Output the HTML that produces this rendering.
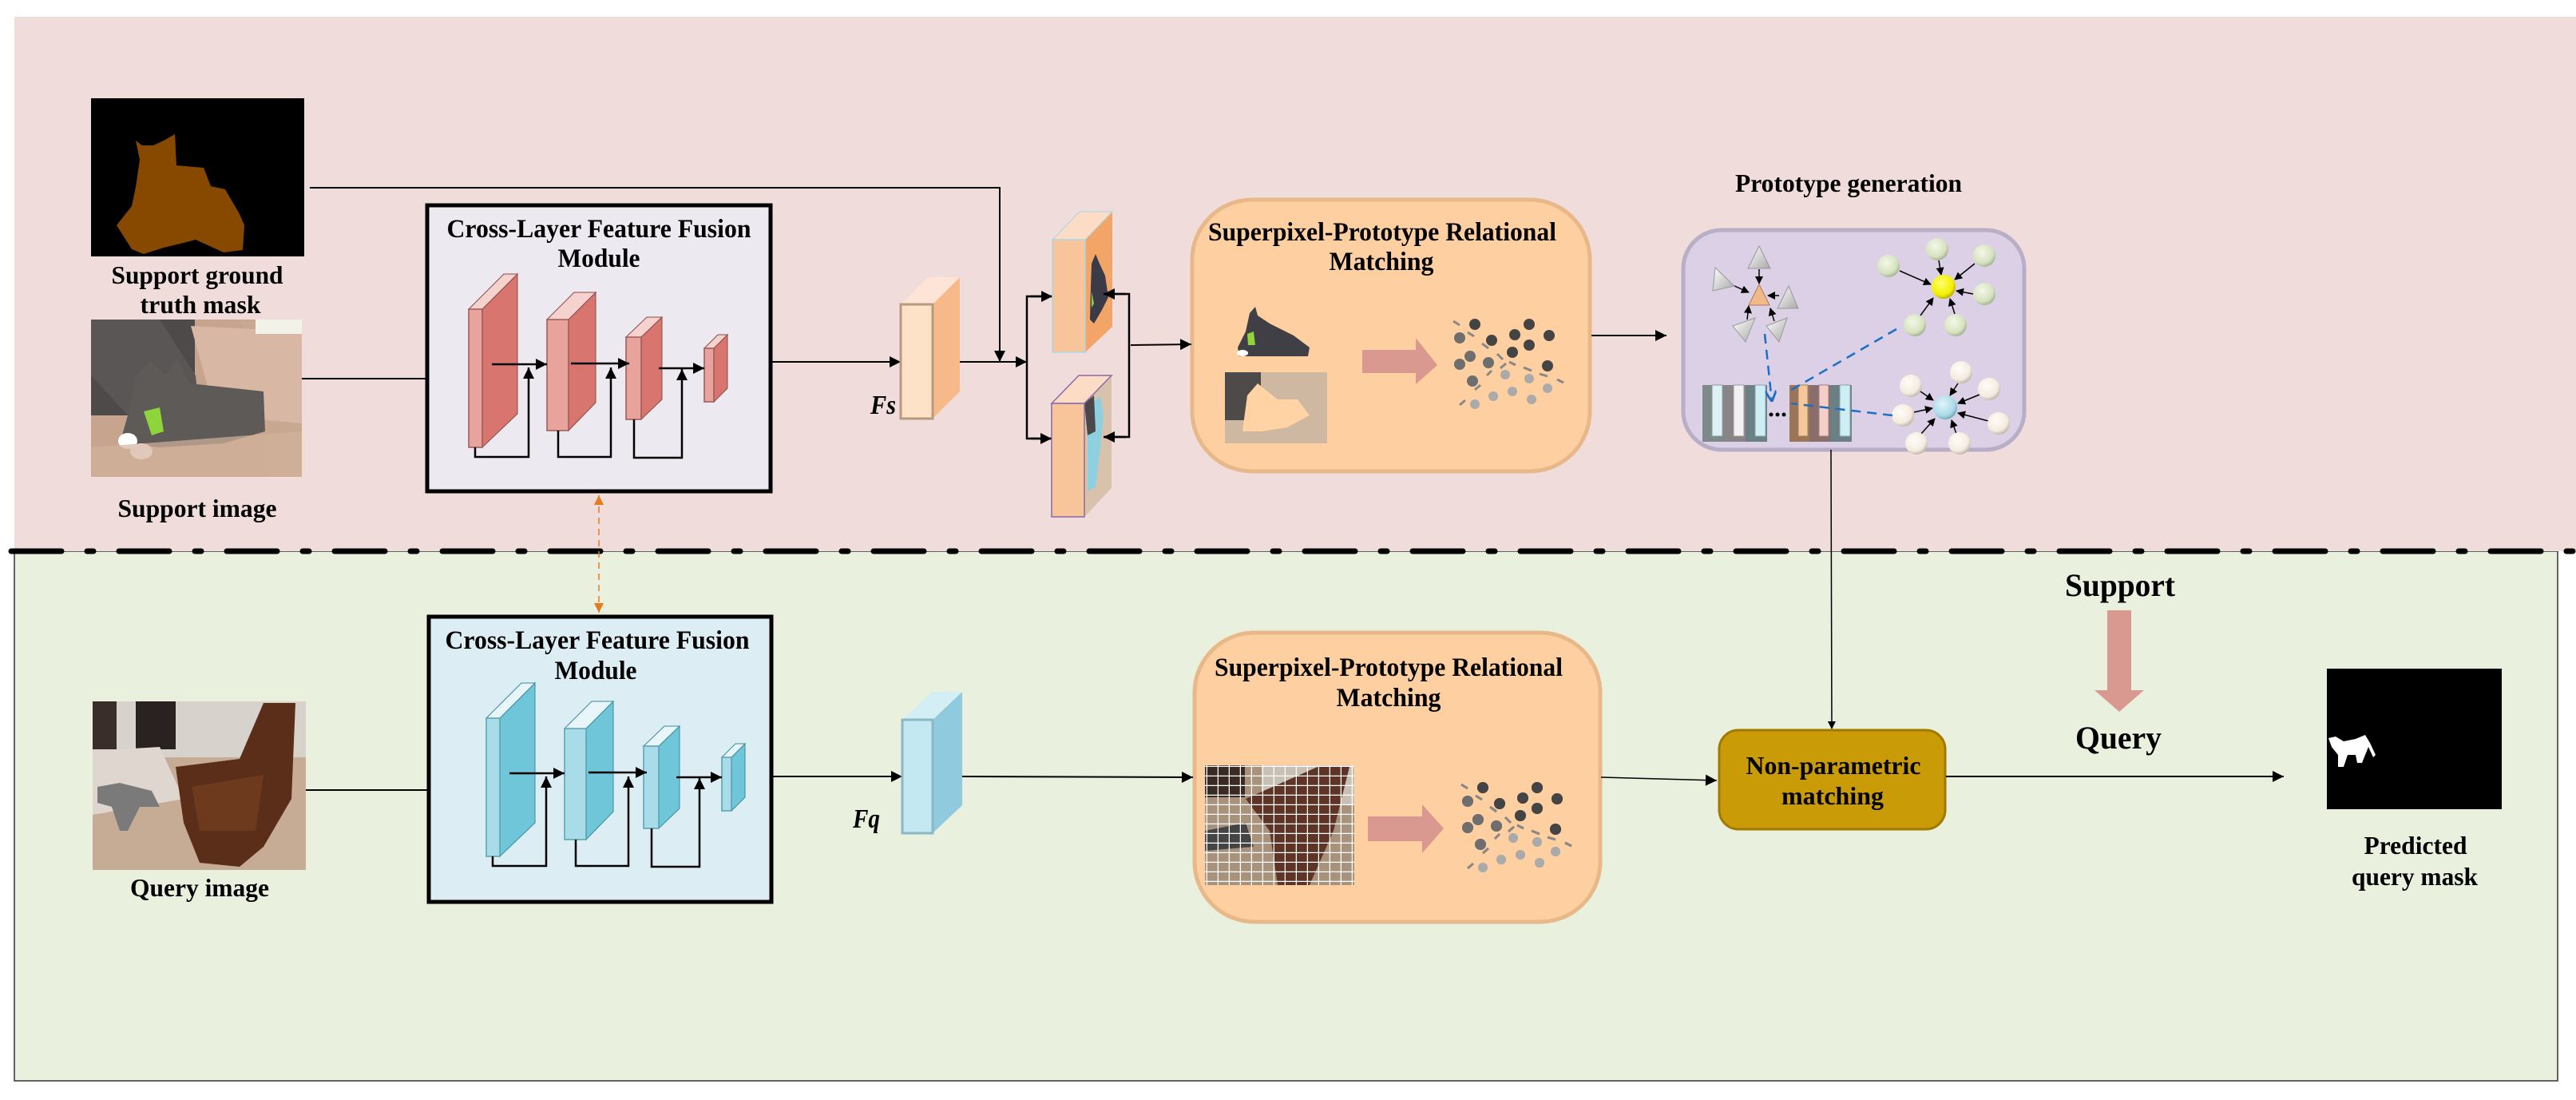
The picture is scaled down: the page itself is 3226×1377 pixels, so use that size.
<!DOCTYPE html>
<html><head><meta charset="utf-8"><style>
html,body{margin:0;padding:0;background:#fff}
svg{display:block}
text{font-family:"Liberation Serif",serif;font-weight:bold;fill:#000}
</style></head><body>
<svg width="3226" height="1377" viewBox="0 0 3226 1377" xmlns="http://www.w3.org/2000/svg">
<defs>
<marker id="ar" markerWidth="10" markerHeight="10" refX="9" refY="5" orient="auto" markerUnits="userSpaceOnUse"><path d="M0,0 L10,5 L0,10 Z" fill="#000"/></marker>
<marker id="arb" viewBox="0 0 10 10" markerWidth="18" markerHeight="14" refX="10" refY="5" orient="auto" markerUnits="userSpaceOnUse"><path d="M0,0 L10,5 L0,10 Z" fill="#000"/></marker>
<marker id="aro" viewBox="0 0 10 10" markerWidth="12" markerHeight="12" refX="10" refY="5" orient="auto-start-reverse" markerUnits="userSpaceOnUse"><path d="M0,0 L10,5 L0,10 Z" fill="#e87a1e"/></marker>
<marker id="arblue" viewBox="0 0 10 10" markerWidth="14" markerHeight="14" refX="10" refY="5" orient="auto" markerUnits="userSpaceOnUse"><path d="M0,0 L10,5 L0,10" fill="none" stroke="#1a6fc4" stroke-width="2"/></marker>
<pattern id="grid" width="14" height="12" patternUnits="userSpaceOnUse"><rect width="14" height="12" fill="none"/><path d="M0,11.5 H14 M13.5,0 V12" stroke="#fff" stroke-width="1.5"/></pattern>
<radialGradient id="gball" cx="0.4" cy="0.35" r="0.7"><stop offset="0" stop-color="#f4f8e8"/><stop offset="0.7" stop-color="#d6e2bf"/><stop offset="1" stop-color="#9aa888"/></radialGradient>
<radialGradient id="wball" cx="0.4" cy="0.35" r="0.7"><stop offset="0" stop-color="#fffdf8"/><stop offset="0.7" stop-color="#f4ebdf"/><stop offset="1" stop-color="#b5aa9c"/></radialGradient>
<radialGradient id="yball" cx="0.4" cy="0.35" r="0.7"><stop offset="0" stop-color="#ffff70"/><stop offset="0.7" stop-color="#f4ef00"/><stop offset="1" stop-color="#b0a000"/></radialGradient>
<radialGradient id="bball" cx="0.4" cy="0.35" r="0.7"><stop offset="0" stop-color="#e0f4fa"/><stop offset="0.7" stop-color="#a9dbe8"/><stop offset="1" stop-color="#6a9cac"/></radialGradient>
<linearGradient id="tri" x1="0" y1="0" x2="1" y2="1"><stop offset="0" stop-color="#ffffff"/><stop offset="1" stop-color="#a8a8a8"/></linearGradient>
</defs>

<!-- backgrounds -->
<rect x="18" y="690" width="3185" height="663" fill="#e9f0de" stroke="#333" stroke-width="1.5"/>
<rect x="18" y="21" width="3208" height="669" fill="#f0dcdb"/>
<line x1="14" y1="690" x2="3226" y2="690" stroke="#000" stroke-width="7" stroke-dasharray="63 32 8 32" stroke-linecap="round"/>

<!-- SPRM boxes first -->
<rect x="1493" y="250" width="498" height="340" rx="75" fill="#fecfa0" stroke="#e9b889" stroke-width="5"/>
<rect x="1496" y="792" width="508" height="362" rx="75" fill="#fecfa0" stroke="#e9b889" stroke-width="5"/>

<!-- support mask -->
<rect x="114" y="123" width="267" height="198" fill="#000"/>
<path d="M170,176 L178,182 L192,182 L205,176 L219,168 L221,207 L255,210 L264,233 L282,237 L300,268 L306,282 L304,313 L280,316 L245,300 L230,304 L205,310 L180,318 L165,312 L146,282 L165,258 L170,234 L175,200 Z" fill="#874800"/>
<text x="247" y="355" font-size="32" text-anchor="middle" textLength="215" lengthAdjust="spacingAndGlyphs">Support ground</text>
<text x="251" y="392" font-size="32" text-anchor="middle" textLength="151" lengthAdjust="spacingAndGlyphs">truth mask</text>

<!-- support image -->
<rect x="114" y="400" width="264" height="197" fill="#c9a891"/>
<path d="M114,400 L300,400 L330,460 L330,597 L114,597 Z" fill="#c7a48d"/>
<rect x="114" y="400" width="130" height="120" fill="#4e4a4a"/>
<path d="M114,400 L200,400 L245,470 L250,520 L160,520 L114,470Z" fill="#5a5656"/>
<path d="M239,408 L378,415 L378,530 L270,520 Z" fill="#d8b8a4"/>
<rect x="320" y="400" width="58" height="18" fill="#f3f2e8"/>
<path d="M170,470 L188,452 L208,470 L222,448 L238,480 L330,490 L332,540 L280,555 L200,560 L150,555 L160,520 Z" fill="#5d5a57"/>
<path d="M180,515 L200,510 L205,540 L190,545 Z" fill="#8fd43a"/>
<ellipse cx="160" cy="552" rx="12" ry="10" fill="#fff"/>
<ellipse cx="177" cy="565" rx="14" ry="10" fill="#fff"/>
<path d="M114,560 L378,540 L378,597 L114,597Z" fill="#d3b29d" opacity="0.7"/>
<line x1="378" y1="474" x2="533" y2="474" stroke="#000" stroke-width="2"/>
<text x="247" y="647" font-size="32" text-anchor="middle" textLength="199" lengthAdjust="spacingAndGlyphs">Support image</text>

<!-- upper CLFF -->
<rect x="535" y="257" width="430" height="358" fill="#ece9f0" stroke="#000" stroke-width="5"/>
<text x="750" y="297" font-size="33" text-anchor="middle" textLength="381" lengthAdjust="spacingAndGlyphs">Cross-Layer Feature Fusion</text>
<text x="750" y="334" font-size="33" text-anchor="middle" textLength="103" lengthAdjust="spacingAndGlyphs">Module</text>
<g id="layersR">
  <polygon points="604,387 648,343 648,518 604,560" fill="#d9756f" stroke="#8a4a46" stroke-width="1"/>
  <polygon points="587,387 631,343 648,343 604,387" fill="#f6d2ce" stroke="#8a4a46" stroke-width="1"/>
  <rect x="587" y="387" width="17" height="173" fill="#e8a39d" stroke="#9a5a56" stroke-width="1.5"/>
  <polygon points="712,400 746,366 746,504 712,539" fill="#d9756f" stroke="#8a4a46" stroke-width="1"/>
  <polygon points="685,400 719,366 746,366 712,400" fill="#f6d2ce" stroke="#8a4a46" stroke-width="1"/>
  <rect x="685" y="400" width="27" height="139" fill="#e8a39d" stroke="#9a5a56" stroke-width="1.5"/>
  <polygon points="803,422 829,397 829,500 803,525" fill="#d9756f" stroke="#8a4a46" stroke-width="1"/>
  <polygon points="784,422 810,397 829,397 803,422" fill="#f6d2ce" stroke="#8a4a46" stroke-width="1"/>
  <rect x="784" y="422" width="19" height="103" fill="#e8a39d" stroke="#9a5a56" stroke-width="1.5"/>
  <polygon points="894,436 911,419 911,486 894,503" fill="#d9756f" stroke="#8a4a46" stroke-width="1"/>
  <polygon points="882,436 899,419 911,419 894,436" fill="#f6d2ce" stroke="#8a4a46" stroke-width="1"/>
  <rect x="882" y="436" width="12" height="67" fill="#e8a39d" stroke="#9a5a56" stroke-width="1.5"/>
</g>
<g id="arrowsU" stroke="#000" stroke-width="2.5" fill="none">
  <line x1="616" y1="456" x2="685" y2="456" marker-end="url(#arb)"/>
  <line x1="715" y1="455" x2="788" y2="455" marker-end="url(#arb)"/>
  <line x1="825" y1="461" x2="882" y2="461" marker-end="url(#arb)"/>
  <polyline points="595,560 595,572 662,572 662,460" marker-end="url(#arb)"/>
  <polyline points="699,539 699,572 765,572 765,460" marker-end="url(#arb)"/>
  <polyline points="794,525 794,573 854,573 854,462" marker-end="url(#arb)"/>
</g>

<!-- orange dashed double arrow -->
<line x1="750" y1="620" x2="750" y2="767" stroke="#e87a1e" stroke-width="1.5" stroke-dasharray="8 6" marker-start="url(#aro)" marker-end="url(#aro)"/>

<!-- lines to Fs -->
<line x1="965" y1="453" x2="1128" y2="453" stroke="#000" stroke-width="2" marker-end="url(#arb)"/>
<polyline points="388,235 1252,235 1252,453" fill="none" stroke="#000" stroke-width="2" marker-end="url(#arb)"/>
<!-- Fs block -->
<polygon points="1168,381 1202,347 1202,490 1168,524" fill="#f7b98a"/>
<polygon points="1128,381 1162,347 1202,347 1168,381" fill="#fde4d6"/>
<rect x="1128" y="381" width="40" height="143" fill="#fde2c8" stroke="#b89a80" stroke-width="3"/>
<text x="1090" y="518" font-size="34" font-style="italic" textLength="32" lengthAdjust="spacingAndGlyphs">Fs</text>
<line x1="1202" y1="453" x2="1286" y2="453" stroke="#000" stroke-width="2" marker-end="url(#arb)"/>
<polyline points="1317,371 1286,371 1286,549 1317,549" fill="none" stroke="#000" stroke-width="2.5"/>
<line x1="1290" y1="371" x2="1318" y2="371" stroke="#000" stroke-width="2.5" marker-end="url(#arb)"/>
<line x1="1290" y1="549" x2="1317" y2="549" stroke="#000" stroke-width="2.5" marker-end="url(#arb)"/>
<!-- feature blocks -->
<polygon points="1359,300 1393,265 1393,409 1359,441" fill="#f2a566"/>
<polygon points="1318,300 1352,265 1393,265 1359,300" fill="#fcdcc4" stroke="#a8d8e8" stroke-width="1"/>
<rect x="1318" y="300" width="41" height="141" fill="#f8c49a" stroke="#a8d8e8" stroke-width="1.5"/>
<path d="M1372,318 L1377,330 L1384,345 L1388,372 L1380,388 L1370,405 L1365,400 L1366,360 L1367,330Z" fill="#3b3b48"/>
<path d="M1367,365 L1370,380 L1367,385Z" fill="#8fd43a"/>
<polygon points="1358,505 1392,470 1392,611 1358,647" fill="#d8c2ab"/>
<path d="M1367,505 L1378,496 L1382,520 L1378,560 L1372,610 L1362,615 L1362,540 Z" fill="#8fd0e0"/>
<path d="M1358,505 L1370,495 L1372,540 L1362,545Z" fill="#4a4848"/>
<polygon points="1317,505 1351,470 1392,470 1358,505" fill="#fcdcc4" stroke="#8a6aa8" stroke-width="1.5"/>
<rect x="1317" y="505" width="41" height="142" fill="#f8c49a" stroke="#8a6aa8" stroke-width="1.5"/>
<polyline points="1383,368 1414,368 1414,547 1383,547" fill="none" stroke="#000" stroke-width="2.5"/>
<line x1="1410" y1="368" x2="1382" y2="368" stroke="#000" stroke-width="2.5" marker-end="url(#arb)"/>
<line x1="1410" y1="547" x2="1382" y2="547" stroke="#000" stroke-width="2.5" marker-end="url(#arb)"/>
<line x1="1416" y1="432" x2="1492" y2="431" stroke="#000" stroke-width="2" marker-end="url(#arb)"/>

<!-- upper SPRM content -->
<text x="1731" y="301" font-size="33" text-anchor="middle" textLength="436" lengthAdjust="spacingAndGlyphs">Superpixel-Prototype Relational</text>
<text x="1730" y="338" font-size="33" text-anchor="middle" textLength="131" lengthAdjust="spacingAndGlyphs">Matching</text>
<path d="M1565,392 L1572,384 L1575,395 L1590,405 L1620,420 L1640,435 L1638,446 L1600,446 L1552,446 L1550,435 L1560,415 Z" fill="#3f3f45"/>
<path d="M1562,418 L1570,415 L1572,432 L1563,432Z" fill="#8fd43a"/>
<ellipse cx="1556" cy="442" rx="7" ry="4" fill="#fff"/>
<rect x="1534" y="466" width="128" height="89" fill="#cfb8a2"/>
<rect x="1534" y="466" width="45" height="60" fill="#4e4a4a"/>
<path d="M1562,495 L1575,480 L1600,500 L1625,500 L1640,520 L1612,535 L1580,540 L1556,540 Z" fill="#ffd3a4"/>
<polygon points="1706,438 1773,438 1773,423 1800,457 1773,481 1773,467 1706,467" fill="#d99890"/>
<g id="dotsL">
 <g fill="#444"><circle cx="1857" cy="986" r="7"/><circle cx="1878" cy="1006" r="7"/><circle cx="1907" cy="999" r="7"/><circle cx="1925" cy="986" r="7"/><circle cx="1950" cy="1000" r="7"/><circle cx="1925" cy="1012" r="7"/><circle cx="1904" cy="1021" r="7"/><circle cx="1948" cy="1038" r="7"/></g>
 <g fill="#6e6e6e"><circle cx="1838" cy="1003" r="7"/><circle cx="1851" cy="1026" r="7"/><circle cx="1838" cy="1036" r="7"/><circle cx="1874" cy="1034" r="7"/><circle cx="1854" cy="1057" r="7"/></g>
 <g fill="#aaa"><circle cx="1895" cy="1049" r="6"/><circle cx="1925" cy="1054" r="6"/><circle cx="1904" cy="1070" r="6"/><circle cx="1880" cy="1076" r="6"/><circle cx="1928" cy="1080" r="6"/><circle cx="1948" cy="1066" r="6"/><circle cx="1857" cy="1086" r="6"/></g>
 <g stroke="#888" stroke-width="3"><line x1="1830" y1="982" x2="1838" y2="987"/><line x1="1848" y1="996" x2="1856" y2="1001"/><line x1="1866" y1="1010" x2="1874" y2="1016"/><line x1="1885" y1="1023" x2="1892" y2="1030"/><line x1="1889" y1="1041" x2="1896" y2="1035"/><line x1="1900" y1="1033" x2="1908" y2="1037"/><line x1="1918" y1="1040" x2="1928" y2="1044"/><line x1="1938" y1="1048" x2="1948" y2="1051"/><line x1="1960" y1="1055" x2="1968" y2="1059"/><line x1="1872" y1="1050" x2="1878" y2="1044"/><line x1="1857" y1="1068" x2="1864" y2="1062"/><line x1="1838" y1="1087" x2="1845" y2="1081"/></g>
</g>
<use href="#dotsL" transform="translate(-10,-580)"/>
<line x1="1993" y1="420" x2="2087" y2="420" stroke="#000" stroke-width="2" marker-end="url(#arb)"/>

<!-- prototype generation -->
<text x="2315" y="240" font-size="32" text-anchor="middle" textLength="284" lengthAdjust="spacingAndGlyphs">Prototype generation</text>
<rect x="2108" y="288" width="427" height="275" rx="48" fill="#dbd0e6" stroke="#b8aec8" stroke-width="5"/>
<g stroke="#000" stroke-width="1.5" fill="none">
 <line x1="2203" y1="337" x2="2203" y2="355" marker-end="url(#ar)"/>
 <line x1="2170" y1="357" x2="2190" y2="366" marker-end="url(#ar)"/>
 <line x1="2228" y1="370" x2="2214" y2="370" marker-end="url(#ar)"/>
 <line x1="2188" y1="400" x2="2190" y2="383" marker-end="url(#ar)"/>
 <line x1="2222" y1="402" x2="2217" y2="386" marker-end="url(#ar)"/>
 <line x1="2379" y1="339" x2="2418" y2="356" marker-end="url(#ar)"/>
 <line x1="2428" y1="326" x2="2431" y2="344" marker-end="url(#ar)"/>
 <line x1="2473" y1="330" x2="2448" y2="350" marker-end="url(#ar)"/>
 <line x1="2471" y1="368" x2="2450" y2="364" marker-end="url(#ar)"/>
 <line x1="2448" y1="393" x2="2442" y2="374" marker-end="url(#ar)"/>
 <line x1="2405" y1="395" x2="2421" y2="373" marker-end="url(#ar)"/>
 <line x1="2405" y1="490" x2="2421" y2="501" marker-end="url(#ar)"/>
 <line x1="2452" y1="480" x2="2442" y2="495" marker-end="url(#ar)"/>
 <line x1="2479" y1="494" x2="2452" y2="505" marker-end="url(#ar)"/>
 <line x1="2397" y1="516" x2="2420" y2="511" marker-end="url(#ar)"/>
 <line x1="2490" y1="527" x2="2452" y2="517" marker-end="url(#ar)"/>
 <line x1="2406" y1="543" x2="2423" y2="524" marker-end="url(#ar)"/>
 <line x1="2450" y1="543" x2="2444" y2="526" marker-end="url(#ar)"/>
</g>
<g fill="url(#tri)" stroke="#999" stroke-width="1">
 <polygon points="2203,308 2217,336 2189,336"/>
 <polygon points="2148,335 2172,358 2145,364"/>
 <polygon points="2240,358 2252,386 2226,386"/>
 <polygon points="2170,408 2198,398 2186,428"/>
 <polygon points="2212,408 2238,398 2228,428"/>
</g>
<polygon points="2203,356 2216,382 2190,382" fill="#f1b88a" stroke="#b07850" stroke-width="1"/>
<g fill="url(#gball)"><circle cx="2365" cy="333" r="14"/><circle cx="2426" cy="312" r="14"/><circle cx="2485" cy="320" r="14"/><circle cx="2485" cy="368" r="14"/><circle cx="2449" cy="407" r="14"/><circle cx="2398" cy="407" r="14"/></g>
<circle cx="2434" cy="359" r="15" fill="url(#yball)"/>
<g fill="url(#wball)"><circle cx="2393" cy="483" r="14"/><circle cx="2456" cy="466" r="14"/><circle cx="2491" cy="487" r="14"/><circle cx="2383" cy="520" r="14"/><circle cx="2503" cy="530" r="14"/><circle cx="2400" cy="555" r="14"/><circle cx="2454" cy="555" r="14"/></g>
<circle cx="2436" cy="510" r="15" fill="url(#bball)"/>
<g>
 <rect x="2132" y="482" width="27" height="71" fill="#7e8a8a"/><rect x="2144" y="482" width="13" height="64" fill="#dff1f4" stroke="#8a9a9a"/>
 <rect x="2159" y="482" width="27" height="71" fill="#8a8488"/><rect x="2171" y="482" width="13" height="64" fill="#f2f0f2" stroke="#9a9a9a"/>
 <rect x="2186" y="482" width="27" height="71" fill="#6a8084"/><rect x="2198" y="482" width="13" height="64" fill="#cdeef4" stroke="#8aa0a4"/>
 <rect x="2241" y="482" width="25" height="71" fill="#9a7558"/><rect x="2252" y="482" width="12" height="64" fill="#f5c79a" stroke="#a08060"/>
 <rect x="2266" y="482" width="26" height="71" fill="#8a6e6c"/><rect x="2278" y="482" width="12" height="64" fill="#f4cfc8" stroke="#a08080"/>
 <rect x="2292" y="482" width="27" height="71" fill="#6a8084"/><rect x="2304" y="482" width="13" height="64" fill="#cdeef4" stroke="#8aa0a4"/>
 <circle cx="2218" cy="519" r="2.5" fill="#000"/><circle cx="2226" cy="519" r="2.5" fill="#000"/><circle cx="2234" cy="519" r="2.5" fill="#000"/>
</g>
<g stroke="#1a6fc4" stroke-width="2.5" fill="none" stroke-dasharray="12 8">
 <polyline points="2210,418 2219,503" marker-end="url(#arblue)"/>
 <line x1="2375" y1="412" x2="2240" y2="490"/>
 <line x1="2370" y1="520" x2="2243" y2="505"/>
</g>
<line x1="2293" y1="563" x2="2294" y2="912" stroke="#000" stroke-width="1.5" marker-end="url(#ar)"/>

<!-- lower: query image -->
<rect x="116" y="878" width="267" height="211" fill="#c6ab95"/>
<rect x="116" y="878" width="267" height="70" fill="#d8d2cc"/>
<rect x="116" y="878" width="30" height="60" fill="#3a2e2a"/>
<rect x="170" y="878" width="50" height="60" fill="#2a2220"/>
<path d="M116,940 L200,935 L230,1000 L116,1020Z" fill="#e0d6d0"/>
<path d="M220,960 L300,950 L330,880 L370,880 L365,1000 L330,1060 L300,1085 L250,1080 L230,1030 Z" fill="#5a2e18"/>
<path d="M240,985 L330,970 L320,1040 L250,1040Z" fill="#6e3a1e"/>
<path d="M122,985 L150,980 L190,990 L200,1010 L175,1010 L160,1040 L150,1040 L140,1010 L122,1005Z" fill="#7a7a7a"/>
<line x1="383" y1="989" x2="535" y2="989" stroke="#000" stroke-width="2"/>
<text x="250" y="1122" font-size="32" text-anchor="middle" textLength="174" lengthAdjust="spacingAndGlyphs">Query image</text>

<!-- lower CLFF -->
<rect x="537" y="772" width="429" height="357" fill="#dceef4" stroke="#000" stroke-width="5"/>
<text x="748" y="812" font-size="33" text-anchor="middle" textLength="381" lengthAdjust="spacingAndGlyphs">Cross-Layer Feature Fusion</text>
<text x="746" y="850" font-size="33" text-anchor="middle" textLength="103" lengthAdjust="spacingAndGlyphs">Module</text>
<g transform="translate(22,512)">
  <polygon points="604,387 648,343 648,518 604,560" fill="#6fc6d9" stroke="#3a8a9a" stroke-width="1"/>
  <polygon points="587,387 631,343 648,343 604,387" fill="#e8f6fa" stroke="#3a8a9a" stroke-width="1"/>
  <rect x="587" y="387" width="17" height="173" fill="#a7dce8" stroke="#5aa0b0" stroke-width="1.5"/>
  <polygon points="712,400 746,366 746,504 712,539" fill="#6fc6d9" stroke="#3a8a9a" stroke-width="1"/>
  <polygon points="685,400 719,366 746,366 712,400" fill="#e8f6fa" stroke="#3a8a9a" stroke-width="1"/>
  <rect x="685" y="400" width="27" height="139" fill="#a7dce8" stroke="#5aa0b0" stroke-width="1.5"/>
  <polygon points="803,422 829,397 829,500 803,525" fill="#6fc6d9" stroke="#3a8a9a" stroke-width="1"/>
  <polygon points="784,422 810,397 829,397 803,422" fill="#e8f6fa" stroke="#3a8a9a" stroke-width="1"/>
  <rect x="784" y="422" width="19" height="103" fill="#a7dce8" stroke="#5aa0b0" stroke-width="1.5"/>
  <polygon points="894,436 911,419 911,486 894,503" fill="#6fc6d9" stroke="#3a8a9a" stroke-width="1"/>
  <polygon points="882,436 899,419 911,419 894,436" fill="#e8f6fa" stroke="#3a8a9a" stroke-width="1"/>
  <rect x="882" y="436" width="12" height="67" fill="#a7dce8" stroke="#5aa0b0" stroke-width="1.5"/>
  <use href="#arrowsU"/>
</g>
<line x1="966" y1="972" x2="1130" y2="972" stroke="#000" stroke-width="2" marker-end="url(#arb)"/>
<polygon points="1168,901 1205,866 1205,1008 1168,1043" fill="#8fcade"/>
<polygon points="1130,901 1167,866 1205,866 1168,901" fill="#d4eef6"/>
<rect x="1130" y="901" width="38" height="142" fill="#c4e8f2" stroke="#8ab8c6" stroke-width="3"/>
<text x="1068" y="1036" font-size="34" font-style="italic" textLength="34" lengthAdjust="spacingAndGlyphs">Fq</text>
<line x1="1205" y1="972" x2="1494" y2="973" stroke="#000" stroke-width="2" marker-end="url(#arb)"/>

<!-- lower SPRM content -->
<text x="1739" y="846" font-size="33" text-anchor="middle" textLength="436" lengthAdjust="spacingAndGlyphs">Superpixel-Prototype Relational</text>
<text x="1739" y="884" font-size="33" text-anchor="middle" textLength="131" lengthAdjust="spacingAndGlyphs">Matching</text>
<rect x="1509" y="958" width="187" height="150" fill="#a8927c"/>
<rect x="1509" y="958" width="50" height="40" fill="#3a2a24"/>
<rect x="1580" y="958" width="116" height="50" fill="#c8c0b4"/>
<path d="M1560,1000 L1650,960 L1690,960 L1670,1040 L1640,1108 L1600,1108 L1590,1040 Z" fill="#5e3426"/>
<path d="M1509,1040 L1560,1030 L1570,1060 L1509,1065Z" fill="#444"/>
<rect x="1509" y="958" width="187" height="150" fill="url(#grid)"/>
<polygon points="1713,1022 1781,1022 1781,1007 1808,1037 1781,1068 1781,1053 1713,1053" fill="#d99890"/>
<use href="#dotsL"/>
<line x1="2005" y1="973" x2="2150" y2="977" stroke="#000" stroke-width="1.5" marker-end="url(#arb)"/>

<!-- non-parametric matching -->
<rect x="2153" y="914" width="283" height="124" rx="24" fill="#c99b06" stroke="#a07a00" stroke-width="3"/>
<text x="2296" y="969" font-size="32" text-anchor="middle" textLength="219" lengthAdjust="spacingAndGlyphs">Non-parametric</text>
<text x="2295" y="1007" font-size="32" text-anchor="middle" textLength="128" lengthAdjust="spacingAndGlyphs">matching</text>
<line x1="2437" y1="972" x2="2860" y2="972" stroke="#000" stroke-width="2" marker-end="url(#arb)"/>

<!-- support / query arrow -->
<text x="2655" y="746" font-size="40" text-anchor="middle" textLength="138" lengthAdjust="spacingAndGlyphs">Support</text>
<polygon points="2639,764 2669,764 2669,864 2685,864 2654,891 2623,864 2639,864" fill="#d99890"/>
<text x="2653" y="937" font-size="40" text-anchor="middle" textLength="108" lengthAdjust="spacingAndGlyphs">Query</text>

<!-- predicted mask -->
<rect x="2914" y="837" width="219" height="176" fill="#000"/>
<path d="M2916,924 L2925,922 L2935,928 L2950,925 L2962,920 L2968,930 L2975,945 L2972,948 L2966,935 L2962,945 L2958,955 L2952,955 L2950,945 L2940,945 L2935,960 L2928,960 L2928,945 L2920,935 Z" fill="#fff"/>
<text x="3025" y="1069" font-size="32" text-anchor="middle" textLength="129" lengthAdjust="spacingAndGlyphs">Predicted</text>
<text x="3024" y="1108" font-size="32" text-anchor="middle" textLength="158" lengthAdjust="spacingAndGlyphs">query mask</text>
</svg>
</body></html>
